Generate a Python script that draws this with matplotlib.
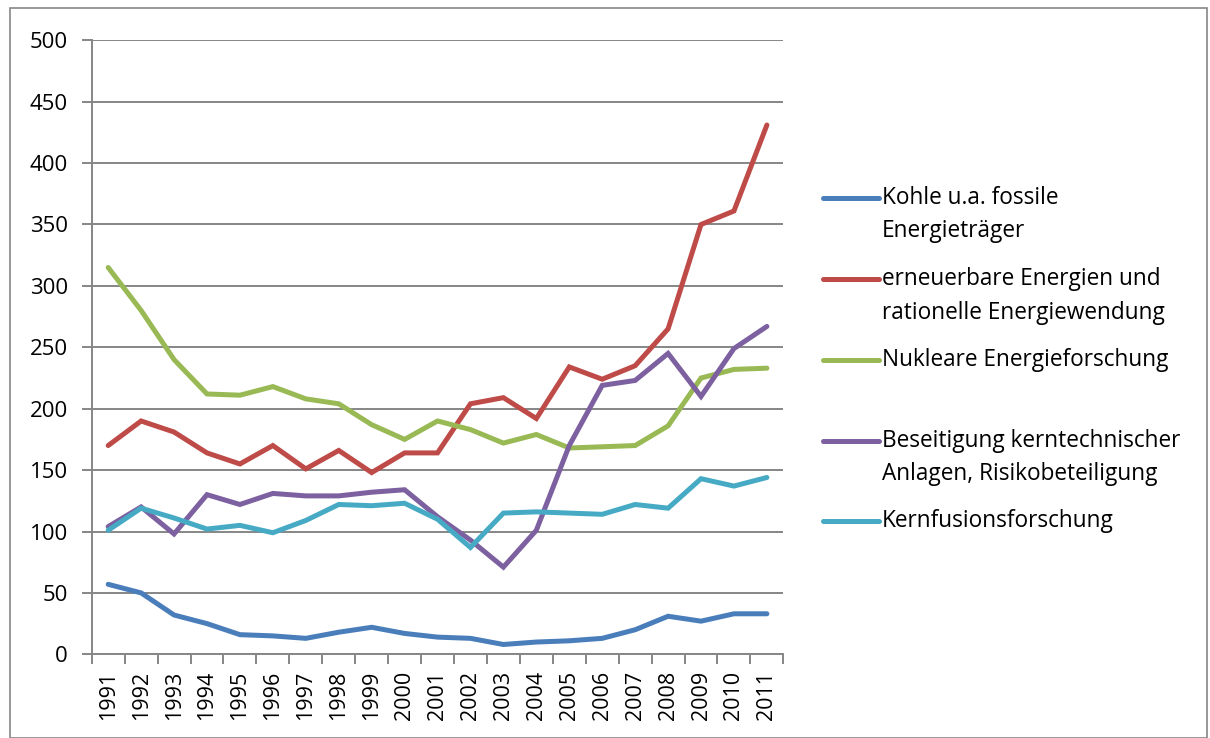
import matplotlib
matplotlib.use("Agg")
import matplotlib.pyplot as plt
from matplotlib.lines import Line2D
from matplotlib.patches import Rectangle
from matplotlib.ticker import MultipleLocator

plt.rcParams['font.family'] = ['Open Sans', 'DejaVu Sans']

years = [str(y) for y in range(1991, 2012)]

kohle = [57, 50, 32, 25, 16, 15, 13, 18, 22, 17, 14, 13, 8, 10, 11, 13, 20, 31, 27, 33, 33]
erneuerbar = [170, 190, 181, 164, 155, 170, 151, 166, 148, 164, 164, 204, 209, 192, 234, 224, 235, 265, 350, 361, 431]
nuklear = [315, 280, 240, 212, 211, 218, 208, 204, 187, 175, 190, 183, 172, 179, 168, 169, 170, 186, 225, 232, 233]
beseitigung = [104, 120, 98, 130, 122, 131, 129, 129, 132, 134, 112, 93, 71, 101, 170, 219, 223, 245, 210, 249, 267]
kernfusion = [101, 119, 111, 102, 105, 99, 109, 122, 121, 123, 110, 87, 115, 116, 115, 114, 122, 119, 143, 137, 144]

labels = [
    ["Kohle u.a. fossile", "Energieträger"],
    ["erneuerbare Energien und", "rationelle Energiewendung"],
    ["Nukleare Energieforschung"],
    ["Beseitigung kerntechnischer", "Anlagen, Risikobeteiligung"],
    ["Kernfusionsforschung"],
]
colors = ["#4A7EBB", "#BE4B48", "#98B954", "#7D60A0", "#46AAC5"]
series = [kohle, erneuerbar, nuklear, beseitigung, kernfusion]

fig = plt.figure(figsize=(12.1, 7.38), dpi=100)
ax = fig.add_axes([0.0758, 0.1134, 0.5716, 0.832])

x = list(range(len(years)))
for vals, c in zip(series, colors):
    ax.plot(x, vals, color=c, linewidth=3.6, solid_capstyle='round',
            solid_joinstyle='miter', zorder=3)

ax.set_xlim(-0.5, len(years) - 0.5)
ax.set_ylim(0, 500)
ax.yaxis.set_major_locator(MultipleLocator(50))
ax.grid(axis='y', color='#868686', linewidth=1.4, zorder=1)

ax.set_xticks(x)
ax.set_xticklabels(years, rotation=90, fontsize=15.5)
ax.set_xticks([i - 0.5 for i in range(len(years) + 1)], minor=True)
ax.tick_params(axis='x', which='major', length=0, pad=12)
ax.tick_params(axis='x', which='minor', length=7, width=1.4, color='#868686')
ax.tick_params(axis='y', length=7, width=1.4, color='#868686', labelsize=16, pad=10)

for s in ['top', 'right']:
    ax.spines[s].set_visible(False)
for s in ['left', 'bottom']:
    ax.spines[s].set_color('#868686')
    ax.spines[s].set_linewidth(1.4)

# legend drawn by hand, Excel style
W, H = 1210.0, 738.0
entry_y = [198, 279, 360, 441, 521]
for lines, c, yy in zip(labels, colors, entry_y):
    fy = 1 - yy / H
    fig.add_artist(Line2D([823 / W, 879 / W], [fy, fy], color=c, linewidth=3.6,
                          solid_capstyle='round', transform=fig.transFigure))
    for k, t in enumerate(lines):
        fig.text(882 / W, 1 - (yy + 33.5 * k) / H, t, fontsize=16.3, va='center', ha='left')

fig.add_artist(Rectangle((10 / W, 0), 1197 / W, 1 - 8 / H, transform=fig.transFigure,
                         fill=False, edgecolor='#868686', linewidth=1.2))

fig.savefig("out.png", dpi=100, facecolor='white')
